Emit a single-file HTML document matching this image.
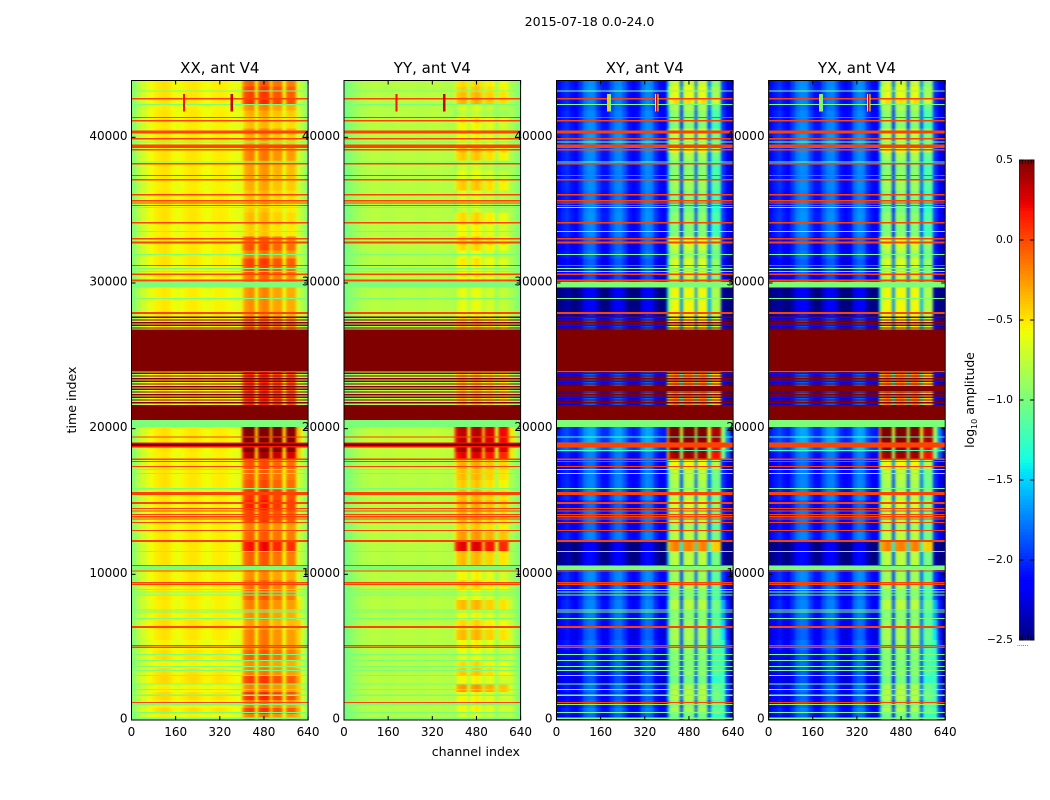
<!DOCTYPE html>
<html>
<head>
<meta charset="utf-8">
<title>2015-07-18 waterfall amplitude</title>
<style>
html,body{margin:0;padding:0;background:#fff;width:1050px;height:800px;overflow:hidden}
svg{display:block}
text{font-family:"DejaVu Sans","Liberation Sans",sans-serif;fill:#000}
</style>
</head>
<body>
<svg id="figure" xmlns="http://www.w3.org/2000/svg" width="1050" height="800" viewBox="0 0 1050 800">
<defs>
<filter id="channel-smooth" x="0" y="0" width="1" height="1" color-interpolation-filters="sRGB"><feGaussianBlur stdDeviation="1.3 0"/></filter>
</defs>
<rect x="0" y="0" width="1050" height="800" fill="#fff"/>
<text x="589.5" y="26" font-size="12.6" text-anchor="middle">2015-07-18 0.0-24.0</text>
<text x="76" y="400" font-size="12.6" text-anchor="middle" transform="rotate(-90 76 400)">time index</text>
<text x="520" y="756" font-size="12.6" text-anchor="end">channel index</text>
<text x="974" y="400" font-size="12.4" text-anchor="middle" transform="rotate(-90 974 400)">log<tspan font-size="8" dy="3">10</tspan><tspan dy="-3"> amplitude</tspan></text>
<g id="panels"></g>
<g id="colorbar"></g>
</svg>
<script>
// ---- axis data ----
const channelMax = 640;
const timeMax = 43900;
const channelTicks = [0, 160, 320, 480, 640];
const timeTicks = [0, 10000, 20000, 30000, 40000];
const colorMin = -2.5;
const colorMax = 0.5;
const colorbarTicks = [0.5, 0.0, -0.5, -1.0, -1.5, -2.0, -2.5];
const colorbarEdgeTicks = [0.02, 0.2, 0.4, 0.6, 0.8, 0.98];

// ---- channel bins (upper edge is the next entry) ----
const channelEdges = [0,16,32,48,64,80,96,112,128,144,160,176,192,208,224,240,256,272,288,304,320,336,352,368,384,400,408,424,440,448,458,474,490,502,510,524,538,548,560,572,584,596,612,628,640];

// ---- mean log10 amplitude per channel bin ----
const profileXX = [-0.95,-0.80,-0.68,-0.62,-0.58,-0.53,-0.50,-0.48,-0.50,-0.56,-0.59,-0.56,-0.52,-0.50,-0.50,-0.53,-0.57,-0.58,-0.54,-0.52,-0.52,-0.54,-0.57,-0.60,-0.62,-0.52,-0.31,-0.26,-0.28,-0.60,-0.28,-0.22,-0.26,-0.58,-0.35,-0.33,-0.35,-0.62,-0.38,-0.36,-0.38,-0.68,-0.80,-0.95];
const profileYY = [-1.02,-0.95,-0.90,-0.85,-0.82,-0.80,-0.78,-0.78,-0.79,-0.80,-0.80,-0.79,-0.78,-0.78,-0.78,-0.78,-0.79,-0.79,-0.79,-0.78,-0.77,-0.78,-0.79,-0.80,-0.80,-0.75,-0.50,-0.45,-0.50,-0.78,-0.48,-0.42,-0.50,-0.80,-0.55,-0.52,-0.58,-0.85,-0.60,-0.58,-0.62,-0.82,-0.90,-1.00];
const profileXY = [-2.10,-2.00,-1.95,-2.05,-2.10,-1.95,-1.75,-1.68,-1.70,-1.90,-2.05,-2.05,-1.85,-1.72,-1.70,-1.85,-2.05,-2.12,-2.05,-1.78,-1.68,-1.72,-1.95,-2.08,-2.12,-1.70,-0.95,-0.85,-0.90,-1.95,-0.90,-0.85,-0.95,-2.00,-0.95,-0.85,-0.90,-1.85,-1.15,-1.10,-1.15,-1.95,-2.15,-2.30];
const profileYX = [-2.10,-2.02,-1.95,-2.05,-2.10,-1.93,-1.75,-1.68,-1.70,-1.90,-2.05,-2.05,-1.85,-1.72,-1.70,-1.85,-2.05,-2.12,-2.05,-1.78,-1.68,-1.72,-1.95,-2.08,-2.12,-1.70,-0.95,-0.85,-0.92,-1.95,-0.90,-0.85,-0.95,-2.00,-0.95,-0.85,-0.90,-1.85,-1.15,-1.10,-1.15,-1.95,-2.15,-2.30];

// ---- time sections: upper time of each section, gains in log10 units ----
const sectionTop = [43900,43490,43080,42670,42260,41850,41430,41020,40610,40200,39380,38960,38420,37730,37040,36360,35670,34850,34030,33200,32650,32240,31690,31140,30600,30120,29700,27990,27670,26820,23940,21610,20580,20120,19480,19070,18390,17840,17150,16460,15780,15090,14410,13580,12900,12210,11520,10630,10290,9600,8920,8230,7550,6860,6170,5490,4800,4120,3570,3020,2470,1920,1370,820,410];
const blockGainXX = [0.20,0.30,0.30,0.35,0.05,-0.05,-0.12,-0.10,0.05,-0.05,0.10,0.10,0.00,0.00,-0.05,-0.10,-0.15,-0.10,-0.15,0.20,0.25,0.10,0.30,0.25,0.15,0,0.05,0.05,0.15,0.3,0.35,0.3,0,0.85,0.85,0.85,0.65,0.25,0.20,0.25,0.35,0.40,0.30,0.10,0.20,0.45,0.20,0,0.05,0.15,0.20,0.10,0.05,0.00,0.10,0.10,0.20,0.05,0.10,0.30,0.10,0.35,0.10,0.30,0.10];
const blockGainYY = [0.00,0.05,0.10,0.12,-0.20,-0.30,-0.05,-0.10,-0.15,-0.10,0.10,0.05,-0.25,-0.15,0.05,-0.20,-0.25,0.00,-0.10,0.05,0.00,-0.15,-0.05,-0.10,-0.10,0,-0.15,-0.10,0.05,0.3,0.10,0.3,0,0.80,0.80,0.85,0.70,0.15,0.10,0.05,0.10,0.15,0.12,0.05,0.20,0.70,0.10,0,-0.10,0.00,-0.15,0.10,-0.10,0.00,0.10,-0.10,-0.15,0.00,0.05,-0.10,0.20,-0.10,-0.10,-0.10,-0.20];
const blockGainXY = [0.15,0.30,0.25,0.40,0.05,-0.05,-0.05,-0.10,0.15,0.10,0.30,0.05,-0.10,-0.05,0.00,-0.10,-0.15,-0.05,-0.10,0.30,0.15,0.05,0.20,0.15,0.10,0,0.30,0.30,0.35,0.5,0.70,0.5,0,1.50,1.50,1.30,1.30,0.30,0.10,0.05,0.10,0.20,0.10,0.00,0.10,0.70,0.10,0,0.00,0.05,-0.05,0.10,-0.05,0.00,0.05,0.00,-0.05,-0.10,-0.05,-0.15,0.05,0.10,-0.05,0.05,-0.15];
const lowGainXX = [0.00,0.00,0.00,0.00,-0.02,0.00,0.00,-0.02,0.00,0.00,-0.02,0.00,0.00,0.00,-0.02,0.00,0.00,0.00,-0.02,0.00,0.00,0.00,0.00,-0.02,0.00,0,-0.02,0.00,0.00,0.3,0.00,0.3,0,0.00,0.00,0.00,-0.02,0.00,0.00,0.00,0.00,0.00,0.00,0.00,0.00,0.00,0.00,0,0.00,0.00,0.00,-0.02,0.00,0.02,0.00,-0.04,0.02,-0.04,0.02,0.03,-0.03,0.03,-0.02,0.03,-0.03];
const lowGainYY = [0.00,0.00,0.00,0.00,0.00,0.00,0.00,0.00,0.00,0.00,0.00,0.00,0.00,0.00,0.00,0.00,0.00,0.00,0.00,0.00,0.00,0.00,0.00,0.00,0.00,0,0.00,0.00,0.00,0.3,0.00,0.3,0,0.03,0.05,0.05,0.03,0.00,0.00,0.00,0.00,0.00,0.00,0.00,0.00,0.00,0.00,0,0.00,0.00,0.00,0.00,0.00,0.00,0.00,0.00,0.00,0.00,0.00,0.00,0.00,0.00,0.00,0.00,-0.02];
const lowGainXY = [-0.02,0.00,-0.05,-0.03,-0.08,-0.03,-0.05,-0.02,0.00,0.03,0.00,-0.03,-0.02,-0.04,-0.02,-0.05,-0.02,0.00,-0.04,-0.08,-0.12,-0.08,-0.15,-0.12,-0.18,0,-0.45,-0.35,-0.20,0.5,-0.15,0.5,0,0.05,0.08,0.15,-0.05,-0.10,-0.05,-0.04,-0.02,-0.12,-0.06,-0.10,-0.04,-0.45,-0.42,0,-0.02,-0.03,-0.08,-0.04,-0.06,-0.10,-0.14,-0.08,-0.16,-0.10,-0.14,-0.18,-0.08,-0.14,-0.10,-0.05,-0.12];
const tailGainXX = [0,0,0,0,0,0,0,0,0,0,0,0,0,0,0,0,0,0,0,0,0,0,0,0,0,0,0,0,0,0,0,0,0,0.30,0.30,0.30,0.30,0,0,0,0,0,0,0,0,0,0,0,0,0,0.08,0.20,0.18,0.25,0.25,0.30,0.32,0.25,0.30,0.35,0.30,0.35,0.30,0.35,0.35];
const tailGainYY = [0,0,0,0,0,0,0,0,0,0,0,0,0,0,0,0,0,0,0,0,0,0,0,0,0,0,0,0,0,0,0,0,0,0.30,0.30,0.30,0.30,0,0,0,0,0,0,0,0,0,0,0,0,0,0.03,0.08,0.08,0.12,0.12,0.12,0.15,0.12,0.15,0.15,0.15,0.15,0.12,0.15,0.10];
const tailGainXY = [0,0,0,0,0,0,0,0,0,0,0,0,0,0,0,0,0,0,0,0,0,0,0,0,0,0,0,0,0,0,0,0,0,1.00,1.00,1.00,1.00,0,0,0,0,0,0,0,0,0,0,0,0,0,0.15,0.40,0.35,0.55,0.65,0.75,0.85,0.80,0.85,0.90,0.85,0.90,0.80,0.85,0.80];

// ---- full-width flagged rows: centre time and time span ----
const orangeValue = 0.02;
const orangeTimes = [42650,41350,41140,40370,39900,39400,39150,38190,37370,37090,36060,35650,35490,35310,34140,33040,32790,31190,30600,30180,27940,18890,17900,17740,17400,15540,14900,14520,14340,14110,13950,13790,13560,13010,12290,10610,10220,9420,9310,6390,5120,4990,1210];
const orangeSpans = [80,80,80,205,80,240,105,80,80,80,80,80,80,80,80,80,140,80,80,140,110,340,80,80,80,205,120,80,80,80,80,80,80,80,115,80,80,80,80,115,80,80,80];
const greenValue = -1.0;
const greenTimes = [43170,42240,39670,38300,35190,33530,31950,31010,30800,29890,28930,23910,20350,17200,16920,15900,11570,10460,8970,8800,8580,7550,7430,6980,4510,4100,3680,3410,3070,2470,2110,1700,1080,530,120];
const greenSpans = [70,70,70,70,70,70,70,70,70,380,70,60,460,70,70,70,70,340,70,70,70,70,70,70,70,70,70,70,70,70,70,70,70,70,70];
const parallelLineTimes = [19430];
const parallelLineSpans = [80];
const crossLineTimes = [19430, 18490];
const crossLineSpans = [80, 80];
const crossLineValues = [-1.2, -1.2];

// ---- saturated rows (top of colour scale) ----
const saturatedValue = 0.5;
const saturatedTimes = [25380,21095,27640,27457,27274,27091,26908,23800,23617,23434,23251,23068,22885,22702,22519,22336,22153,21970,21787];
const saturatedSpans = [2880,1030,90,90,90,90,90,90,90,90,90,90,90,90,90,90,90,90,90];
const parallelSaturatedTimes = [18890];
const parallelSaturatedSpans = [170];
const crossSaturatedTimes = [22740];
const crossSaturatedSpans = [340];

// ---- RFI bursts: channel, width in channels, value per polarisation group ----
const burstTop = 42960;
const burstBottom = 41780;
const burstChannels = [190, 363];
const burstWidthsParallel = [7, 8];
const burstValuesParallel = [0.18, 0.3];
const burstWidthsCross = [14, 12];
const burstValuesCross = [-1.1, -0.55];
const burstCoreWidthsCross = [5, 5];
const burstCoreValuesCross = [-0.4, 0.3];

// ---- panels ----
const panelNames = ['XX', 'YY', 'XY', 'YX'];
const panelLefts = [131.5, 344, 556.5, 768.6];
const panelWidth = 176.6;
const panelTop = 80.5;
const panelBottom = 720;
const profiles = [profileXX, profileYY, profileXY, profileYX];
const blockGains = [blockGainXX, blockGainYY, blockGainXY, blockGainXY];
const lowGains = [lowGainXX, lowGainYY, lowGainXY, lowGainXY];
const tailGains = [tailGainXX, tailGainYY, tailGainXY, tailGainXY];
const gapGainFactors = [0.2, 0.2, 0.8, 0.8];
const gapBins = [29, 33, 37];
const firstBlockBin = 25;
const firstTailBin = 41;
const outerTailBin = 42;
const outerTailFactor = 0.35;

const NS = 'http://www.w3.org/2000/svg';

function interp(stops, n) {
  for (let i = 1; i < stops.length; i++) {
    if (n <= stops[i][0]) {
      const a = stops[i - 1], b = stops[i];
      return a[1] + (b[1] - a[1]) * (n - a[0]) / (b[0] - a[0]);
    }
  }
  return stops[stops.length - 1][1];
}
const jetR = [[0,0],[0.35,0],[0.66,1],[0.89,1],[1,0.5]];
const jetG = [[0,0],[0.125,0],[0.375,1],[0.64,1],[0.91,0],[1,0]];
const jetB = [[0,0.5],[0.11,1],[0.34,1],[0.65,0],[1,0]];
function colour(v) {
  const n = Math.max(0, Math.min(1, (v - colorMin) / (colorMax - colorMin)));
  return 'rgb(' + Math.round(interp(jetR, n) * 255) + ',' + Math.round(interp(jetG, n) * 255) + ',' + Math.round(interp(jetB, n) * 255) + ')';
}
function xScale(p, ch) { return panelLefts[p] + ch / channelMax * panelWidth; }
function yScale(t) { return panelBottom - t / timeMax * (panelBottom - panelTop); }

function cell(parent, x0, x1, y0, y1, value, name) {
  const r = document.createElementNS(NS, 'rect');
  r.setAttribute('x', x0.toFixed(2));
  r.setAttribute('y', y0.toFixed(2));
  r.setAttribute('width', (x1 - x0).toFixed(2));
  r.setAttribute('height', (y1 - y0).toFixed(2));
  r.setAttribute('fill', colour(value));
  r.setAttribute('shape-rendering', 'crispEdges');
  
  
  parent.appendChild(r);
  return r;
}
function line(parent, x1, y1, x2, y2, name, width) {
  const l = document.createElementNS(NS, 'line');
  l.setAttribute('x1', x1);
  l.setAttribute('y1', y1);
  l.setAttribute('x2', x2);
  l.setAttribute('y2', y2);
  l.setAttribute('stroke', '#000');
  l.setAttribute('stroke-width', width || 1);
  
  
  parent.appendChild(l);
}
function label(parent, x, y, str, size, anchor, name) {
  const t = document.createElementNS(NS, 'text');
  t.setAttribute('x', x);
  t.setAttribute('y', y);
  t.setAttribute('font-size', size);
  t.setAttribute('text-anchor', anchor);
  t.textContent = str;
  
  
  parent.appendChild(t);
}
function row(g, p, time, span, value, name) {
  const x0 = xScale(p, 0), x1 = xScale(p, channelMax);
  cell(g, x0, x1, yScale(time + span / 2), yScale(time - span / 2), value, name);
}

const panelsGroup = document.getElementById('panels');
panelNames.forEach(function (pname, p) {
  const g = document.createElementNS(NS, 'g');
  
  
  panelsGroup.appendChild(g);
  const isCross = p >= 2;

  // underlay for the smoothed edge
  const last = channelEdges.length - 2;
  cell(g, xScale(p, 0), xScale(p, channelMax / 2), yScale(timeMax), yScale(0), profiles[p][0], 'heatmap-underlay');
  cell(g, xScale(p, channelMax / 2), xScale(p, channelMax), yScale(timeMax), yScale(0), profiles[p][last], 'heatmap-underlay');

  // background cells
  const cells = document.createElementNS(NS, 'g');
  cells.setAttribute('filter', 'url(#channel-smooth)');
  
  
  g.appendChild(cells);
  sectionTop.forEach(function (top, s) {
    const bottom = s + 1 < sectionTop.length ? sectionTop[s + 1] : 0;
    for (let b = 0; b < channelEdges.length - 1; b++) {
      let gain = lowGains[p][s];
      if (b >= firstBlockBin && b < firstTailBin) gain = blockGains[p][s];
      if (gapBins.indexOf(b) >= 0) gain = blockGains[p][s] * gapGainFactors[p];
      if (b === firstTailBin) gain += tailGains[p][s];
      if (b === outerTailBin) gain += tailGains[p][s] * outerTailFactor;
      cell(cells, xScale(p, channelEdges[b]), xScale(p, channelEdges[b + 1]), yScale(top), yScale(bottom), profiles[p][b] + gain, 'heatmap-cell');
    }
  });

  // flagged rows
  saturatedTimes.forEach(function (t, i) {
    row(g, p, t, saturatedSpans[i], saturatedValue, 'saturated-row');
  });
  (isCross ? crossSaturatedTimes : parallelSaturatedTimes).forEach(function (t, i) {
    row(g, p, t, (isCross ? crossSaturatedSpans : parallelSaturatedSpans)[i], saturatedValue, 'saturated-row');
  });
  greenTimes.forEach(function (t, i) {
    row(g, p, t, greenSpans[i], greenValue, 'flagged-row-low');
  });
  orangeTimes.forEach(function (t, i) {
    if (!(!isCross && t === parallelSaturatedTimes[0])) {
      row(g, p, t, orangeSpans[i], orangeValue, 'flagged-row-high');
    }
  });
  if (!isCross) {
    row(g, p, 18890, 340, 0.15, 'flagged-row-high');
    parallelSaturatedTimes.forEach(function (t, i) {
      row(g, p, t, parallelSaturatedSpans[i], saturatedValue, 'saturated-row');
    });
    parallelLineTimes.forEach(function (t, i) {
      row(g, p, t, parallelLineSpans[i], orangeValue, 'flagged-row-high');
    });
  } else {
    crossLineTimes.forEach(function (t, i) {
      row(g, p, t, crossLineSpans[i], crossLineValues[i], 'flagged-row-low');
    });
  }

  // RFI bursts
  burstChannels.forEach(function (ch, i) {
    const w = isCross ? burstWidthsCross[i] : burstWidthsParallel[i];
    const v = isCross ? burstValuesCross[i] : burstValuesParallel[i];
    cell(g, xScale(p, ch - w / 2), xScale(p, ch + w / 2), yScale(burstTop), yScale(burstBottom), v, 'rfi-burst');
    if (isCross) {
      const cw = burstCoreWidthsCross[i];
      cell(g, xScale(p, ch - cw / 2), xScale(p, ch + cw / 2), yScale(burstTop), yScale(burstBottom), burstCoreValuesCross[i], 'rfi-burst-core');
    }
  });

  // frame
  const frame = document.createElementNS(NS, 'rect');
  frame.setAttribute('x', panelLefts[p]);
  frame.setAttribute('y', panelTop);
  frame.setAttribute('width', panelWidth);
  frame.setAttribute('height', panelBottom - panelTop);
  frame.setAttribute('fill', 'none');
  frame.setAttribute('stroke', '#000');
  frame.setAttribute('stroke-width', '1');
  
  
  g.appendChild(frame);

  // ticks and labels
  channelTicks.forEach(function (c) {
    const x = xScale(p, c);
    line(g, x, panelBottom, x, panelBottom - 4, 'x-tick');
    line(g, x, panelTop, x, panelTop + 4, 'x-tick');
    label(g, x, 736, String(c), 12, 'middle', 'x-tick-label');
  });
  timeTicks.forEach(function (t) {
    const y = yScale(t);
    line(g, panelLefts[p], y, panelLefts[p] + 4, y, 'y-tick');
    line(g, panelLefts[p] + panelWidth, y, panelLefts[p] + panelWidth - 4, y, 'y-tick');
    label(g, panelLefts[p] - 4, y + 2.5, String(t), 12, 'end', 'y-tick-label');
  });
  label(g, panelLefts[p] + panelWidth / 2, 73, pname + ', ant V4', 15, 'middle', 'panel-title');
});

// ---- colorbar ----
const barLeft = 1019.5, barRight = 1034, barTop = 160, barBottom = 640;
function barY(v) { return barBottom - (v - colorMin) / (colorMax - colorMin) * (barBottom - barTop); }
const barGroup = document.getElementById('colorbar');
const barLevels = 160;
for (let i = 0; i < barLevels; i++) {
  const lo = colorMin + (colorMax - colorMin) * i / barLevels;
  const hi = colorMin + (colorMax - colorMin) * (i + 1) / barLevels;
  cell(barGroup, barLeft, barRight, barY(hi), barY(lo), (lo + hi) / 2, 'colorbar-swatch');
}
const barFrame = document.createElementNS(NS, 'rect');
barFrame.setAttribute('x', barLeft);
barFrame.setAttribute('y', barTop);
barFrame.setAttribute('width', barRight - barLeft);
barFrame.setAttribute('height', barBottom - barTop);
barFrame.setAttribute('fill', 'none');
barFrame.setAttribute('stroke', '#222');
barFrame.setAttribute('stroke-width', '1');


barGroup.appendChild(barFrame);
colorbarTicks.forEach(function (v) {
  const y = barY(v);
  line(barGroup, barLeft, y, barLeft + 4, y, 'colorbar-tick');
  line(barGroup, barRight, y, barRight - 4, y, 'colorbar-tick');
  label(barGroup, barLeft - 6.5, y + 3, v.toFixed(1).replace('-', '\u2212'), 10.8, 'end', 'colorbar-tick-label');
});
colorbarEdgeTicks.forEach(function (f) {
  const x = barLeft + f * (barRight - barLeft);
  line(barGroup, x, barTop, x, barTop + 4, 'colorbar-edge-tick', 0.7);
  line(barGroup, x, barBottom, x, barBottom - 4, 'colorbar-edge-tick', 0.7);
});
label(barGroup, 1017, 646, '......', 6, 'start', 'colorbar-offset-dots');
</script>
</body>
</html>
